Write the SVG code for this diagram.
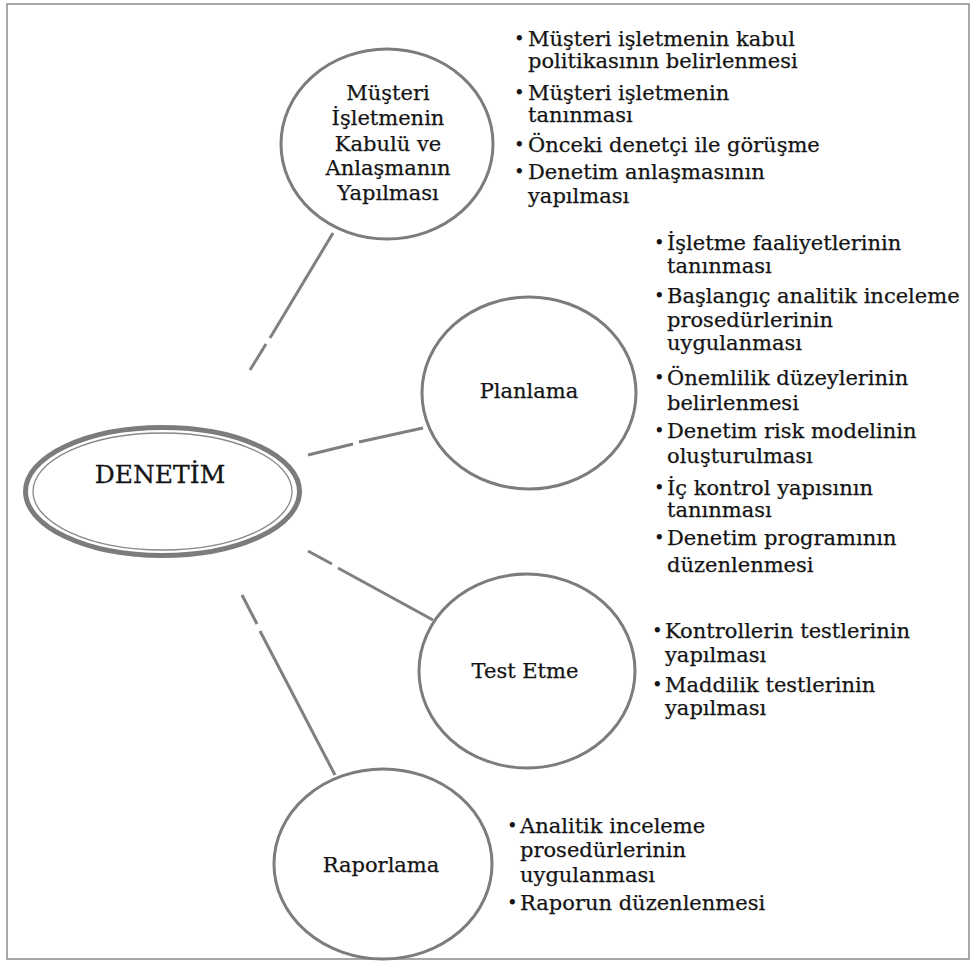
<svg xmlns="http://www.w3.org/2000/svg" width="973" height="962" viewBox="0 0 973 962">
  <style>
    .frame { fill: #ffffff; stroke: #8a8a8a; stroke-width: 1.5; }
    .node { fill: #ffffff; stroke: #7c7c7c; stroke-width: 3; }
    .link { stroke: #808080; stroke-width: 3; fill: none; }
    .lbl { font-family: "DejaVu Serif", "Liberation Serif", serif; font-size: 21px; fill: #141414; stroke: #141414; stroke-width: 0.25; text-anchor: middle; }
    .item { font-family: "DejaVu Serif", "Liberation Serif", serif; font-size: 21px; fill: #141414; stroke: #141414; stroke-width: 0.25; }
    .dot { font-family: "DejaVu Serif", "Liberation Serif", serif; font-size: 18px; fill: #141414; }
  </style>

  <rect class="frame" x="7" y="4" width="962" height="955"/>

  <!-- connectors: each spoke is broken by a small gap near the centre -->
  <g id="connectors">
    <line class="link" x1="250" y1="370" x2="266" y2="344"/>
    <line class="link" x1="270" y1="338" x2="333" y2="233"/>
    <line class="link" x1="308" y1="455" x2="353" y2="444"/>
    <line class="link" x1="359" y1="442" x2="423" y2="428"/>
    <line class="link" x1="308" y1="551" x2="332" y2="564"/>
    <line class="link" x1="338" y1="568" x2="433" y2="620"/>
    <line class="link" x1="242" y1="595" x2="257" y2="624"/>
    <line class="link" x1="260" y1="631" x2="335" y2="775"/>
  </g>

  <g id="denetim">
    <ellipse cx="162.5" cy="491.5" rx="137" ry="64" fill="#ffffff" stroke="#7c7c7c" stroke-width="5"/>
    <ellipse cx="162.5" cy="491.5" rx="129.5" ry="58.5" fill="none" stroke="#8a8a8a" stroke-width="1.3"/>
    <text x="160" y="483" font-family="DejaVu Serif, Liberation Serif, serif" font-size="25" fill="#141414" stroke="#141414" stroke-width="0.3" text-anchor="middle">DENETİM</text>
  </g>

  <g id="kabul">
    <ellipse class="node" cx="387" cy="144" rx="106" ry="95"/>
    <text class="lbl" x="388" y="100">Müşteri</text>
    <text class="lbl" x="388" y="125">İşletmenin</text>
    <text class="lbl" x="388" y="151">Kabulü ve</text>
    <text class="lbl" x="388" y="175">Anlaşmanın</text>
    <text class="lbl" x="388" y="200">Yapılması</text>
  </g>

  <g id="planlama">
    <ellipse class="node" cx="529" cy="393" rx="107" ry="96"/>
    <text class="lbl" x="529" y="398">Planlama</text>
  </g>

  <g id="test-etme">
    <ellipse class="node" cx="527" cy="671" rx="108" ry="97"/>
    <text class="lbl" x="525" y="678">Test Etme</text>
  </g>

  <g id="raporlama">
    <ellipse class="node" cx="383" cy="864" rx="109" ry="95"/>
    <text class="lbl" x="381" y="872">Raporlama</text>
  </g>

  <g id="kabul-items">
    <text class="dot" x="514" y="45">•</text>
    <text class="item" x="528" y="46">Müşteri işletmenin kabul</text>
    <text class="item" x="528" y="68">politikasının belirlenmesi</text>
    <text class="dot" x="514" y="99">•</text>
    <text class="item" x="528" y="100">Müşteri işletmenin</text>
    <text class="item" x="528" y="122">tanınması</text>
    <text class="dot" x="514" y="151">•</text>
    <text class="item" x="528" y="152">Önceki denetçi ile görüşme</text>
    <text class="dot" x="514" y="178">•</text>
    <text class="item" x="528" y="179">Denetim anlaşmasının</text>
    <text class="item" x="528" y="203">yapılması</text>
  </g>

  <g id="planlama-items">
    <text class="dot" x="654" y="249">•</text>
    <text class="item" x="667" y="250">İşletme faaliyetlerinin</text>
    <text class="item" x="667" y="273">tanınması</text>
    <text class="dot" x="654" y="302">•</text>
    <text class="item" x="667" y="303">Başlangıç analitik inceleme</text>
    <text class="item" x="667" y="327">prosedürlerinin</text>
    <text class="item" x="667" y="350">uygulanması</text>
    <text class="dot" x="654" y="384">•</text>
    <text class="item" x="667" y="385">Önemlilik düzeylerinin</text>
    <text class="item" x="667" y="410">belirlenmesi</text>
    <text class="dot" x="654" y="437">•</text>
    <text class="item" x="667" y="438">Denetim risk modelinin</text>
    <text class="item" x="667" y="463">oluşturulması</text>
    <text class="dot" x="654" y="494">•</text>
    <text class="item" x="667" y="495">İç kontrol yapısının</text>
    <text class="item" x="667" y="517">tanınması</text>
    <text class="dot" x="654" y="544">•</text>
    <text class="item" x="667" y="545">Denetim programının</text>
    <text class="item" x="667" y="572">düzenlenmesi</text>
  </g>

  <g id="test-items">
    <text class="dot" x="652" y="637">•</text>
    <text class="item" x="665" y="638">Kontrollerin testlerinin</text>
    <text class="item" x="665" y="662">yapılması</text>
    <text class="dot" x="652" y="691">•</text>
    <text class="item" x="665" y="692">Maddilik testlerinin</text>
    <text class="item" x="665" y="715">yapılması</text>
  </g>

  <g id="raporlama-items">
    <text class="dot" x="507" y="832">•</text>
    <text class="item" x="520" y="833">Analitik inceleme</text>
    <text class="item" x="520" y="857">prosedürlerinin</text>
    <text class="item" x="520" y="882">uygulanması</text>
    <text class="dot" x="507" y="909">•</text>
    <text class="item" x="520" y="910">Raporun düzenlenmesi</text>
  </g>
</svg>
